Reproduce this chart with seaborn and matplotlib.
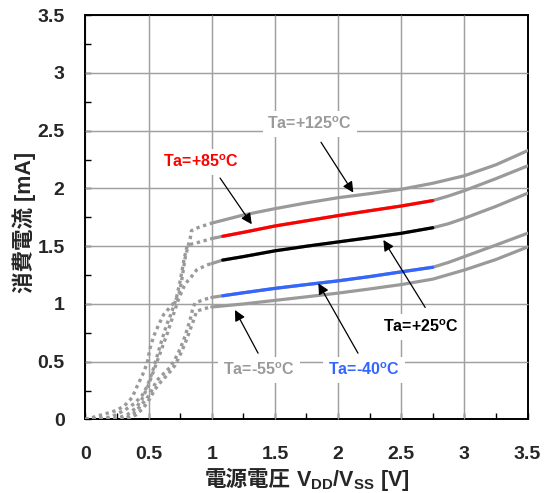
import numpy as np
import pandas as pd
import matplotlib
matplotlib.use('Agg')
import matplotlib.pyplot as plt
import seaborn as sns
from matplotlib.ticker import MultipleLocator, FormatStrFormatter

# ---- data (V, mA) ----
x_125 = [0.0, 0.16, 0.25, 0.31, 0.37, 0.41, 0.45, 0.49, 0.51, 0.54, 0.58, 0.62, 0.70, 0.74, 0.76, 0.79, 0.815, 0.83, 0.84, 0.90,
         1.0, 1.25, 1.5, 1.75, 2.0, 2.25, 2.5, 2.75, 3.0, 3.25, 3.5]
y_125 = [0.0, 0.05, 0.08, 0.12, 0.19, 0.29, 0.38, 0.49, 0.61, 0.72, 0.82, 0.91, 1.01, 1.08, 1.19, 1.40, 1.51, 1.57, 1.635, 1.665,
         1.70, 1.77, 1.825, 1.875, 1.92, 1.955, 1.993, 2.045, 2.11, 2.205, 2.327]

x_85 = [0.0, 0.20, 0.31, 0.39, 0.45, 0.49, 0.53, 0.56, 0.60, 0.64, 0.68, 0.72, 0.75, 0.78, 0.80, 0.81, 0.907,
        1.0, 1.087, 1.25, 1.5, 1.75, 2.0, 2.25, 2.5, 2.75, 2.875, 3.0, 3.25, 3.5]
y_85 = [0.0, 0.02, 0.08, 0.14, 0.21, 0.29, 0.41, 0.52, 0.67, 0.81, 0.92, 1.05, 1.20, 1.38, 1.48, 1.51, 1.537,
        1.566, 1.586, 1.62, 1.675, 1.72, 1.765, 1.807, 1.848, 1.895, 1.935, 1.981, 2.085, 2.195]

x_25 = [0.0, 0.25, 0.33, 0.40, 0.45, 0.50, 0.55, 0.60, 0.65, 0.70, 0.74, 0.78, 0.81, 0.84, 0.88, 0.96,
        1.0, 1.087, 1.25, 1.5, 1.75, 2.0, 2.25, 2.5, 2.75, 2.875, 3.0, 3.25, 3.5]
y_25 = [0.0, 0.01, 0.04, 0.10, 0.18, 0.30, 0.45, 0.60, 0.75, 0.92, 1.05, 1.15, 1.20, 1.237, 1.294, 1.337,
        1.35, 1.38, 1.41, 1.46, 1.50, 1.537, 1.574, 1.612, 1.66, 1.695, 1.742, 1.845, 1.958]

x_m40 = [0.0, 0.30, 0.38, 0.43, 0.485, 0.525, 0.564, 0.617, 0.67, 0.709, 0.749, 0.789, 0.828, 0.85, 0.868, 0.934,
         1.0, 1.087, 1.25, 1.5, 1.75, 2.0, 2.25, 2.5, 2.75, 2.875, 3.0, 3.25, 3.5]
y_m40 = [0.0, 0.0, 0.05, 0.11, 0.18, 0.25, 0.336, 0.394, 0.451, 0.522, 0.608, 0.722, 0.86, 0.96, 1.008, 1.037,
         1.057, 1.071, 1.097, 1.135, 1.168, 1.2, 1.237, 1.278, 1.318, 1.36, 1.41, 1.51, 1.612]

x_m55 = [0.0, 0.32, 0.40, 0.46, 0.51, 0.55, 0.60, 0.66, 0.71, 0.75, 0.79, 0.83, 0.86, 0.88, 0.94,
         1.0, 1.25, 1.5, 1.75, 2.0, 2.25, 2.5, 2.75, 3.0, 3.25, 3.5]
y_m55 = [0.0, 0.0, 0.04, 0.10, 0.18, 0.26, 0.33, 0.40, 0.47, 0.56, 0.66, 0.78, 0.87, 0.937, 0.96,
         0.974, 1.0, 1.031, 1.062, 1.094, 1.13, 1.168, 1.215, 1.294, 1.385, 1.493]

labels = ['Ta=+125$^{\\mathregular{o}}$C', 'Ta=+85$^{\\mathregular{o}}$C', 'Ta=+25$^{\\mathregular{o}}$C',
          'Ta=-40$^{\\mathregular{o}}$C', 'Ta=-55$^{\\mathregular{o}}$C']

GRAY = '#9a9a9a'
curves = [
    (x_125, y_125, None),
    (x_85, y_85, '#ff0000'),
    (x_25, y_25, '#000000'),
    (x_m40, y_m40, '#3366ff'),
    (x_m55, y_m55, None),
]

sns.set_theme(style='white')
plt.rcParams['font.family'] = ['Liberation Sans', 'Noto Sans CJK JP', 'DejaVu Sans']
plt.rcParams['font.weight'] = 'bold'

fig = plt.figure(figsize=(5.44, 4.93), dpi=100)
ax = fig.add_axes([0.157, 0.1491, 0.8127, 0.8201])

V_BREAK = 1.0
for xs, ys, col in curves:
    df = pd.DataFrame({'x': xs, 'y': ys})
    low = df[df['x'] <= V_BREAK]
    high = df[df['x'] >= V_BREAK]
    sns.lineplot(data=low, x='x', y='y', ax=ax, color=GRAY, lw=2.4, sort=False, estimator=None,
                 linestyle=(0, (1.0, 1.1)), dash_capstyle='butt', zorder=3)
    sns.lineplot(data=high, x='x', y='y', ax=ax, color=GRAY, lw=2.3, sort=False, estimator=None, zorder=3)
    if col is not None:
        mid = df[(df['x'] >= 1.08) & (df['x'] <= 2.76)]
        sns.lineplot(data=mid, x='x', y='y', ax=ax, color=col, lw=2.3, sort=False, estimator=None, zorder=4)

ax.set_xlim(0, 3.5)
ax.set_ylim(0, 3.5)
ax.xaxis.set_major_locator(MultipleLocator(0.5))
ax.yaxis.set_major_locator(MultipleLocator(0.5))
ax.xaxis.set_minor_locator(MultipleLocator(0.25))
ax.yaxis.set_minor_locator(MultipleLocator(0.25))
ax.xaxis.set_major_formatter(FormatStrFormatter('%g'))
ax.yaxis.set_major_formatter(FormatStrFormatter('%g'))
ax.grid(True, which='major', color='#a0a0a0', linewidth=0.9, linestyle='-')
ax.tick_params(which='both', direction='in', length=4, width=1.0, color='black',
               bottom=True, left=True, top=False, right=False)
ax.tick_params(axis='x', which='major', pad=19, labelsize=14)
ax.tick_params(axis='y', which='major', pad=15, labelsize=14)

# grid lines at the major tick positions, kept just under the curves
gx = [v for v in ax.get_xticks() if 0 < v < 3.5]
gy = [v for v in ax.get_yticks() if 0 < v < 3.5]
ax.vlines(gx, 0, 1, transform=ax.get_xaxis_transform(), colors='#a0a0a0', lw=0.9, zorder=2.95, clip_on=False)
ax.hlines(gy, 0, 1, transform=ax.get_yaxis_transform(), colors='#a0a0a0', lw=0.9, zorder=2.95, clip_on=False)

for lab in ax.get_xticklabels() + ax.get_yticklabels():
    lab.set_fontweight('bold')
for sp in ax.spines.values():
    sp.set_color('black')
    sp.set_linewidth(1.4)

ax.set_xlabel('')
ax.set_ylabel('')
# axis titles as figure texts
fig.text(0.0441, 0.5487, '消費電流 [mA]', rotation=90, ha='center', va='center',
         fontsize=15.5, fontweight='bold')
fig.text(0.5349, 0.0142, '電源電圧', ha='right', va='baseline',
         fontsize=15.5, fontweight='bold', family=['Noto Sans CJK JP'])
fig.text(0.5441, 0.0142, 'V$_{\\mathregular{DD}}$/V$_{\\mathregular{SS}}$ [V]',
         ha='left', va='baseline', fontsize=15.5, fontweight='bold', family=['Liberation Sans'])

# annotations: text position, text colour, arrow tail, arrow tip
ann = [
    (labels[0], (1.775, 2.56), '#9a9a9a', (1.865, 2.40), (2.121, 1.964)),
    (labels[1], (0.915, 2.23), '#ff0000', (1.066, 2.09), (1.317, 1.69)),
    (labels[2], (2.655, 0.80), '#000000', (2.69, 0.97), (2.359, 1.554)),
    (labels[3], (2.205, 0.43), '#3366ff', (2.158, 0.574), (1.844, 1.179)),
    (labels[4], (1.375, 0.43), '#9a9a9a', (1.367, 0.574), (1.184, 0.948)),
]
for txt, pos, col, tail, tip in ann:
    ax.text(pos[0], pos[1], txt, color=col, fontsize=11.5, fontweight='bold', family=['Liberation Sans'],
            ha='center', va='center', zorder=5,
            bbox=dict(boxstyle='square,pad=0.3', fc='white', ec='none'))
    ax.annotate('', xy=tip, xytext=tail, zorder=6,
                arrowprops=dict(arrowstyle='-|>', color='black', lw=0.9, mutation_scale=16,
                                shrinkA=0, shrinkB=0))

fig.savefig('out.png', dpi=100)
